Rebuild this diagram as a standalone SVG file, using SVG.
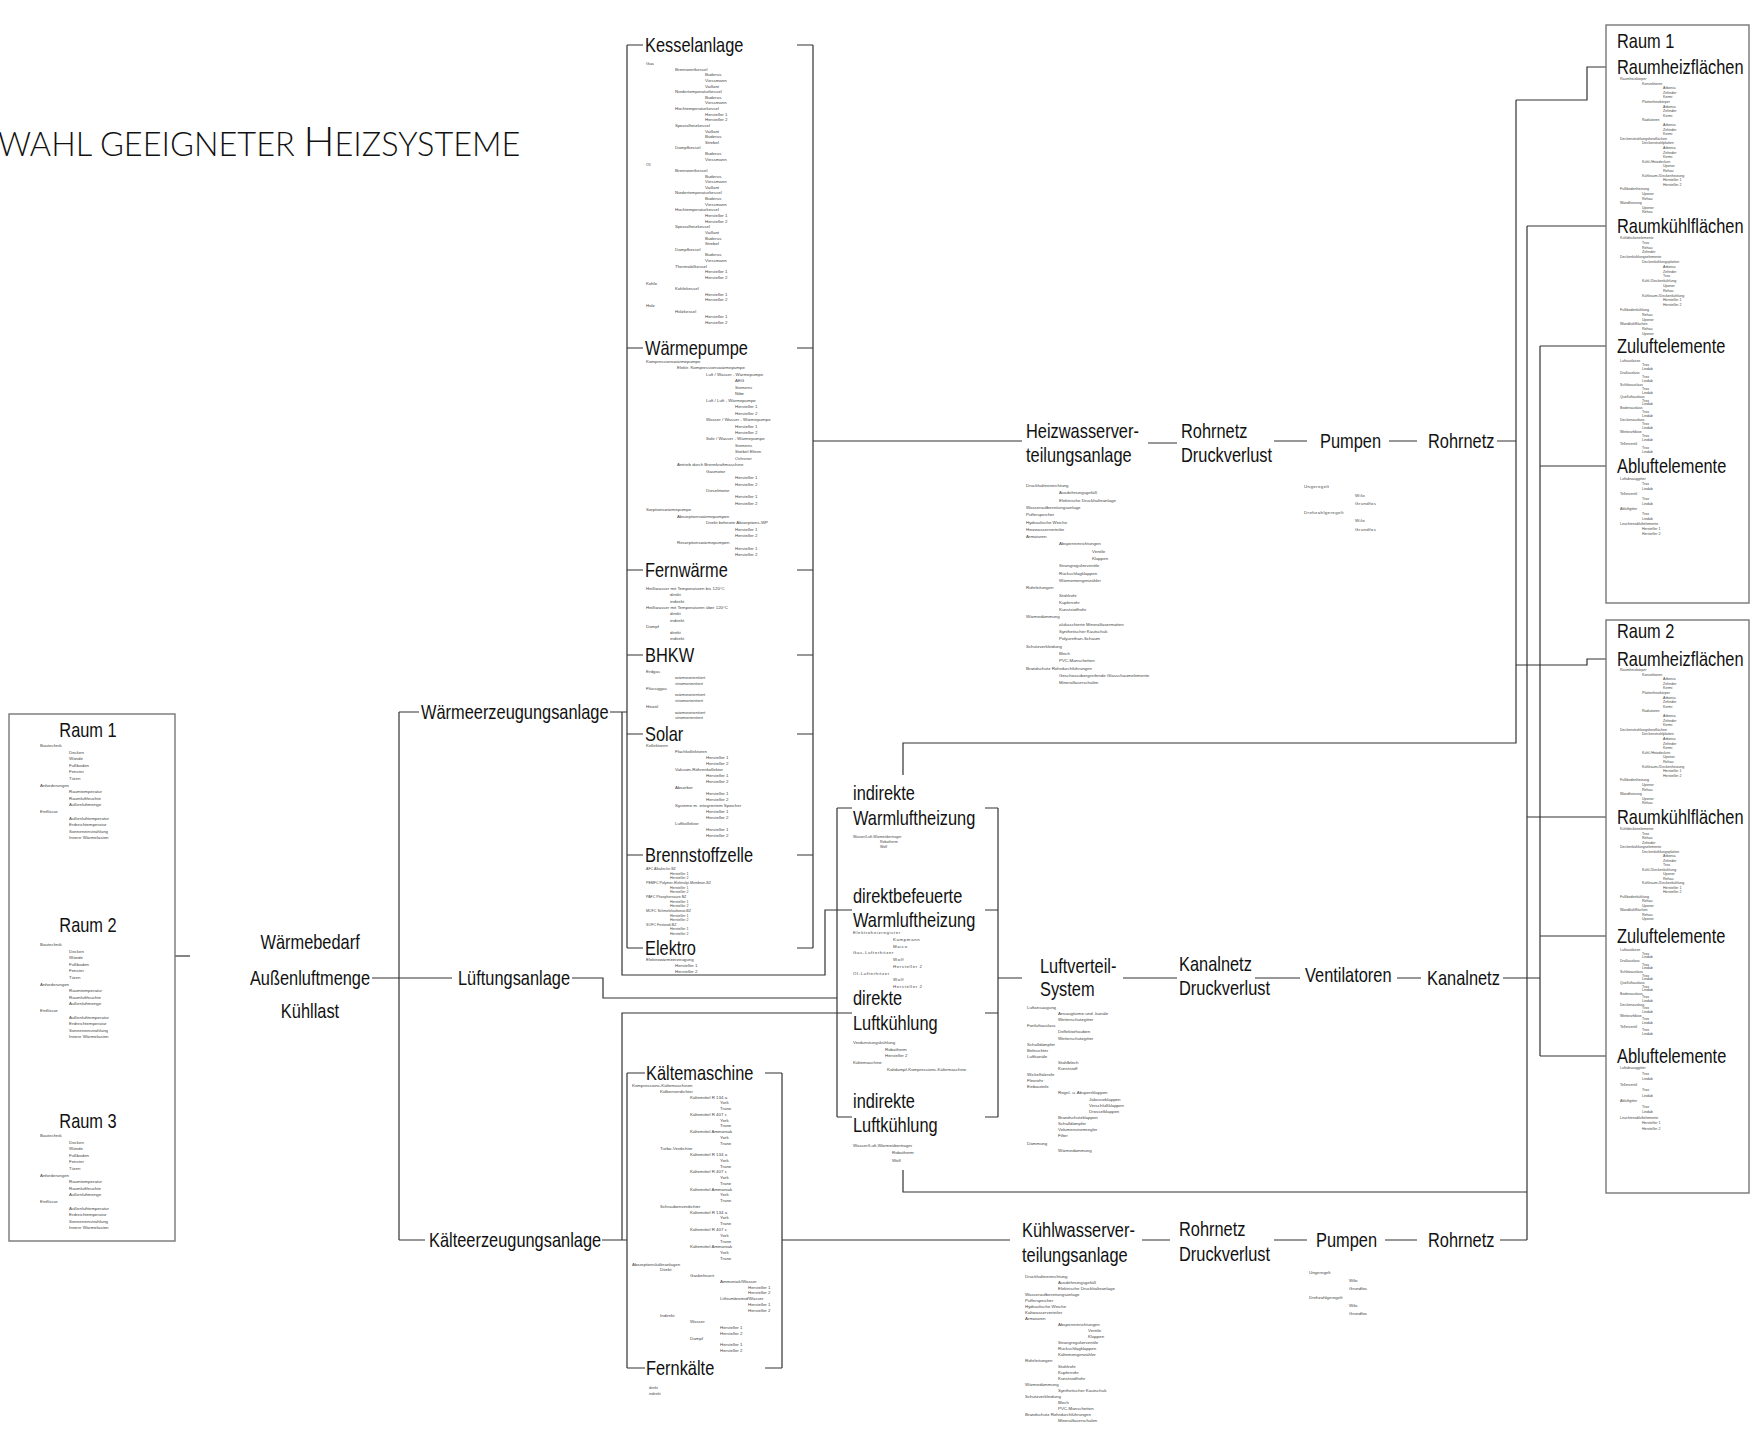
<svg xmlns="http://www.w3.org/2000/svg" width="1752" height="1430" viewBox="0 0 1752 1430">
<style>
.bg{fill:#fff}
.lb{font-family:"Liberation Sans",Arial,sans-serif;font-size:20px;fill:#111;transform-box:fill-box;transform-origin:0 50%;transform:scaleX(0.82)}
.lm{font-family:"Liberation Sans",Arial,sans-serif;font-size:20px;fill:#111;text-anchor:middle;transform-box:fill-box;transform-origin:50% 50%;transform:scaleX(0.82)}
.t{font-family:"Liberation Sans",Arial,sans-serif;font-size:4.4px;fill:#444}
.ts{font-family:"Liberation Sans",Arial,sans-serif;font-size:3.6px;fill:#444}
.tt{font-family:"Lato","Open Sans",sans-serif;font-weight:300;fill:#111}
.c{fill:none;stroke:#333;stroke-width:1.2}
.box{fill:#fff;stroke:#777;stroke-width:1.4}
</style>
<rect class="bg" width="1752" height="1430"/>
<text class="tt" x="-2" y="156" font-size="32.5">WAHL GEEIGNETER <tspan font-size="41">H</tspan>EIZSYSTEME</text>

<g id="connectors" class="c">
<path d="M175 956H190"/>
<path d="M372 978H452M399 712V1240M399 712H419M399 1240H425"/>
<path d="M610 712H627M622 712V975H825V910H837"/>
<path d="M572 978H603V998H837"/>
<path d="M602 1240H627M622 1240V1013H852"/>
<path d="M627 45V948M627 45H643M627 348H643M627 570H643M627 655H643M627 734H643M627 855H643M627 948H643"/>
<path d="M813 45V948M797 45H813M797 348H813M797 570H813M797 655H813M797 734H813M797 855H813M797 948H813"/>
<path d="M813 441H1022"/>
<path d="M627 1073V1368M627 1073H645M627 1368H645M782 1073V1368M765 1073H782M765 1368H782M782 1240H1010"/>
<path d="M837 808V1117M837 808H852M837 910H852M837 1117H852M998 808V1117M985 808H998M985 910H998M985 1013H998M985 1117H998M998 978H1022"/>
<path d="M1148 443H1177M1274 441H1307M1389 441H1417M1497 441H1516"/>
<path d="M1123 978H1177M1255 978H1300M1397 978H1421M1503 978H1540"/>
<path d="M1142 1240H1170M1274 1240H1307M1385 1240H1417M1500 1240H1527"/>
<path d="M1516 100V743H903V775M1516 100H1587V67H1613M1516 665H1587V659H1613"/>
<path d="M1527 226V1240M1527 226H1613M1527 817H1613M1527 1192H903V1170"/>
<path d="M1540 346V1056M1540 346H1613M1540 466H1613M1540 936H1613M1540 1056H1613"/>
</g>

<g id="raum-links">
<rect class="box" x="9" y="714" width="166" height="527"/>
<text class="lm" x="88" y="737">Raum 1</text>
<text class="t" y="747"><tspan x="40">Bautechnik</tspan><tspan x="69" dy="6.6">Decken</tspan><tspan x="69" dy="6.6">Wände</tspan><tspan x="69" dy="6.6">Fußboden</tspan><tspan x="69" dy="6.6">Fenster</tspan><tspan x="69" dy="6.6">Türen</tspan><tspan x="40" dy="6.6">Anforderungen</tspan><tspan x="69" dy="6.6">Raumtemperatur</tspan><tspan x="69" dy="6.6">Raumluftfeuchte</tspan><tspan x="69" dy="6.6">Außenluftmenge</tspan><tspan x="40" dy="6.6">Einflüsse</tspan><tspan x="69" dy="6.6">Außenlufttemperatur</tspan><tspan x="69" dy="6.6">Erdreichtemperatur</tspan><tspan x="69" dy="6.6">Sonneneinstrahlung</tspan><tspan x="69" dy="6.6">Innere Wärmelasten</tspan></text>
<text class="lm" x="88" y="932">Raum 2</text>
<text class="t" y="946"><tspan x="40">Bautechnik</tspan><tspan x="69" dy="6.6">Decken</tspan><tspan x="69" dy="6.6">Wände</tspan><tspan x="69" dy="6.6">Fußboden</tspan><tspan x="69" dy="6.6">Fenster</tspan><tspan x="69" dy="6.6">Türen</tspan><tspan x="40" dy="6.6">Anforderungen</tspan><tspan x="69" dy="6.6">Raumtemperatur</tspan><tspan x="69" dy="6.6">Raumluftfeuchte</tspan><tspan x="69" dy="6.6">Außenluftmenge</tspan><tspan x="40" dy="6.6">Einflüsse</tspan><tspan x="69" dy="6.6">Außenlufttemperatur</tspan><tspan x="69" dy="6.6">Erdreichtemperatur</tspan><tspan x="69" dy="6.6">Sonneneinstrahlung</tspan><tspan x="69" dy="6.6">Innere Wärmelasten</tspan></text>
<text class="lm" x="88" y="1128">Raum 3</text>
<text class="t" y="1137"><tspan x="40">Bautechnik</tspan><tspan x="69" dy="6.6">Decken</tspan><tspan x="69" dy="6.6">Wände</tspan><tspan x="69" dy="6.6">Fußboden</tspan><tspan x="69" dy="6.6">Fenster</tspan><tspan x="69" dy="6.6">Türen</tspan><tspan x="40" dy="6.6">Anforderungen</tspan><tspan x="69" dy="6.6">Raumtemperatur</tspan><tspan x="69" dy="6.6">Raumluftfeuchte</tspan><tspan x="69" dy="6.6">Außenluftmenge</tspan><tspan x="40" dy="6.6">Einflüsse</tspan><tspan x="69" dy="6.6">Außenlufttemperatur</tspan><tspan x="69" dy="6.6">Erdreichtemperatur</tspan><tspan x="69" dy="6.6">Sonneneinstrahlung</tspan><tspan x="69" dy="6.6">Innere Wärmelasten</tspan></text>
</g>

<g id="bedarf">
<text class="lm" x="310" y="949">Wärmebedarf</text>
<text class="lm" x="310" y="985">Außenluftmenge</text>
<text class="lm" x="310" y="1018">Kühllast</text>
</g>

<g id="waermeerzeugung"><text class="lb" x="421" y="719">Wärmeerzeugungsanlage</text></g>
<g id="lueftung"><text class="lb" x="458" y="985">Lüftungsanlage</text></g>
<g id="kaelteerzeugung"><text class="lb" x="429" y="1247">Kälteerzeugungsanlage</text></g>

<g id="kesselanlage">
<text class="lb" x="645" y="52">Kesselanlage</text>
<text class="t" y="65"><tspan x="646">Gas</tspan><tspan x="675" dy="5.63">Brennwertkessel</tspan><tspan x="705" dy="5.63">Buderus</tspan><tspan x="705" dy="5.63">Viessmann</tspan><tspan x="705" dy="5.63">Vaillant</tspan><tspan x="675" dy="5.63">Niedertemperaturkessel</tspan><tspan x="705" dy="5.63">Buderus</tspan><tspan x="705" dy="5.63">Viessmann</tspan><tspan x="675" dy="5.63">Hochtemperaturkessel</tspan><tspan x="705" dy="5.63">Hersteller 1</tspan><tspan x="705" dy="5.63">Hersteller 2</tspan><tspan x="675" dy="5.63">Spezialheizkessel</tspan><tspan x="705" dy="5.63">Vaillant</tspan><tspan x="705" dy="5.63">Buderus</tspan><tspan x="705" dy="5.63">Strebel</tspan><tspan x="675" dy="5.63">Dampfkessel</tspan><tspan x="705" dy="5.63">Buderus</tspan><tspan x="705" dy="5.63">Viessmann</tspan><tspan x="646" dy="5.63">Öl</tspan><tspan x="675" dy="5.63">Brennwertkessel</tspan><tspan x="705" dy="5.63">Buderus</tspan><tspan x="705" dy="5.63">Viessmann</tspan><tspan x="705" dy="5.63">Vaillant</tspan><tspan x="675" dy="5.63">Niedertemperaturkessel</tspan><tspan x="705" dy="5.63">Buderus</tspan><tspan x="705" dy="5.63">Viessmann</tspan><tspan x="675" dy="5.63">Hochtemperaturkessel</tspan><tspan x="705" dy="5.63">Hersteller 1</tspan><tspan x="705" dy="5.63">Hersteller 2</tspan><tspan x="675" dy="5.63">Spezialheizkessel</tspan><tspan x="705" dy="5.63">Vaillant</tspan><tspan x="705" dy="5.63">Buderus</tspan><tspan x="705" dy="5.63">Strebel</tspan><tspan x="675" dy="5.63">Dampfkessel</tspan><tspan x="705" dy="5.63">Buderus</tspan><tspan x="705" dy="5.63">Viessmann</tspan><tspan x="675" dy="5.63">Thermalölkessel</tspan><tspan x="705" dy="5.63">Hersteller 1</tspan><tspan x="705" dy="5.63">Hersteller 2</tspan><tspan x="646" dy="5.63">Kohle</tspan><tspan x="675" dy="5.63">Kohlekessel</tspan><tspan x="705" dy="5.63">Hersteller 1</tspan><tspan x="705" dy="5.63">Hersteller 2</tspan><tspan x="646" dy="5.63">Holz</tspan><tspan x="675" dy="5.63">Holzkessel</tspan><tspan x="705" dy="5.63">Hersteller 1</tspan><tspan x="705" dy="5.63">Hersteller 2</tspan></text>
</g>

<g id="waermepumpe">
<text class="lb" x="645" y="355">Wärmepumpe</text>
<text class="t" y="363"><tspan x="646">Kompressionswärmepumpe</tspan><tspan x="677" dy="6.45">Elektr. Kompressionswärmepumpe</tspan><tspan x="706" dy="6.45">Luft / Wasser - Wärmepumpe</tspan><tspan x="735" dy="6.45">AEG</tspan><tspan x="735" dy="6.45">Siemens</tspan><tspan x="735" dy="6.45">Nibe</tspan><tspan x="706" dy="6.45">Luft / Luft - Wärmepumpe</tspan><tspan x="735" dy="6.45">Hersteller 1</tspan><tspan x="735" dy="6.45">Hersteller 2</tspan><tspan x="706" dy="6.45">Wasser / Wasser - Wärmepumpe</tspan><tspan x="735" dy="6.45">Hersteller 1</tspan><tspan x="735" dy="6.45">Hersteller 2</tspan><tspan x="706" dy="6.45">Sole / Wasser - Wärmepumpe</tspan><tspan x="735" dy="6.45">Siemens</tspan><tspan x="735" dy="6.45">Stiebel Eltron</tspan><tspan x="735" dy="6.45">Ochsner</tspan><tspan x="677" dy="6.45">Antrieb durch Brennkraftmaschine</tspan><tspan x="706" dy="6.45">Gasmotor</tspan><tspan x="735" dy="6.45">Hersteller 1</tspan><tspan x="735" dy="6.45">Hersteller 2</tspan><tspan x="706" dy="6.45">Dieselmotor</tspan><tspan x="735" dy="6.45">Hersteller 1</tspan><tspan x="735" dy="6.45">Hersteller 2</tspan><tspan x="646" dy="6.45">Sorptionswärmepumpe</tspan><tspan x="677" dy="6.45">Absorptionswärmepumpen</tspan><tspan x="706" dy="6.45">Direkt beheizte Absorptions-WP</tspan><tspan x="735" dy="6.45">Hersteller 1</tspan><tspan x="735" dy="6.45">Hersteller 2</tspan><tspan x="677" dy="6.45">Resorptionswärmepumpen</tspan><tspan x="735" dy="6.45">Hersteller 1</tspan><tspan x="735" dy="6.45">Hersteller 2</tspan></text>
</g>

<g id="fernwaerme">
<text class="lb" x="645" y="577">Fernwärme</text>
<text class="t" y="590"><tspan x="646">Heißwasser mit Temperaturen bis 120°C</tspan><tspan x="670" dy="6.3">direkt</tspan><tspan x="670" dy="6.3">indirekt</tspan><tspan x="646" dy="6.3">Heißwasser mit Temperaturen über 120°C</tspan><tspan x="670" dy="6.3">direkt</tspan><tspan x="670" dy="6.3">indirekt</tspan><tspan x="646" dy="6.3">Dampf</tspan><tspan x="670" dy="6.3">direkt</tspan><tspan x="670" dy="6.3">indirekt</tspan></text>
</g>

<g id="bhkw">
<text class="lb" x="645" y="662">BHKW</text>
<text class="t" y="673"><tspan x="646">Erdgas</tspan><tspan x="675" dy="5.8">wärmeorientiert</tspan><tspan x="675" dy="5.8">stromorientiert</tspan><tspan x="646" dy="5.8">Flüssiggas</tspan><tspan x="675" dy="5.8">wärmeorientiert</tspan><tspan x="675" dy="5.8">stromorientiert</tspan><tspan x="646" dy="5.8">Heizöl</tspan><tspan x="675" dy="5.8">wärmeorientiert</tspan><tspan x="675" dy="5.8">stromorientiert</tspan></text>
</g>

<g id="solar">
<text class="lb" x="645" y="741">Solar</text>
<text class="t" y="747"><tspan x="646">Kollektoren</tspan><tspan x="675" dy="6">Flachkollektoren</tspan><tspan x="706" dy="6">Hersteller 1</tspan><tspan x="706" dy="6">Hersteller 2</tspan><tspan x="675" dy="6">Vakuum-Röhrenkollektor</tspan><tspan x="706" dy="6">Hersteller 1</tspan><tspan x="706" dy="6">Hersteller 2</tspan><tspan x="675" dy="6">Absorber</tspan><tspan x="706" dy="6">Hersteller 1</tspan><tspan x="706" dy="6">Hersteller 2</tspan><tspan x="675" dy="6">Systeme m. integriertem Speicher</tspan><tspan x="706" dy="6">Hersteller 1</tspan><tspan x="706" dy="6">Hersteller 2</tspan><tspan x="675" dy="6">Luftkollektor</tspan><tspan x="706" dy="6">Hersteller 1</tspan><tspan x="706" dy="6">Hersteller 2</tspan></text>
</g>

<g id="brennstoffzelle">
<text class="lb" x="645" y="862">Brennstoffzelle</text>
<text class="ts" y="870"><tspan x="646">AFC Alkalische BZ</tspan><tspan x="670" dy="4.65">Hersteller 1</tspan><tspan x="670" dy="4.65">Hersteller 2</tspan><tspan x="646" dy="4.65">PEMFC Polymer-Elektrolyt-Membran-BZ</tspan><tspan x="670" dy="4.65">Hersteller 1</tspan><tspan x="670" dy="4.65">Hersteller 2</tspan><tspan x="646" dy="4.65">PAFC Phosphorsaure BZ</tspan><tspan x="670" dy="4.65">Hersteller 1</tspan><tspan x="670" dy="4.65">Hersteller 2</tspan><tspan x="646" dy="4.65">MCFC Schmelzkarbonat-BZ</tspan><tspan x="670" dy="4.65">Hersteller 1</tspan><tspan x="670" dy="4.65">Hersteller 2</tspan><tspan x="646" dy="4.65">SOFC Festoxid-BZ</tspan><tspan x="670" dy="4.65">Hersteller 1</tspan><tspan x="670" dy="4.65">Hersteller 2</tspan></text>
</g>

<g id="elektro">
<text class="lb" x="645" y="955">Elektro</text>
<text class="t" y="961"><tspan x="646">Elektrowärmeerzeugung</tspan><tspan x="675" dy="6">Hersteller 1</tspan><tspan x="675" dy="6">Hersteller 2</tspan></text>
</g>

<g id="kaeltemaschine">
<text class="lb" x="646" y="1080">Kältemaschine</text>
<text class="t" y="1087"><tspan x="632">Kompressions-Kältemaschinen</tspan><tspan x="660" dy="5.76">Kolbenverdichter</tspan><tspan x="690" dy="5.76">Kältemittel R 134 a</tspan><tspan x="720" dy="5.76">York</tspan><tspan x="720" dy="5.76">Trane</tspan><tspan x="690" dy="5.76">Kältemittel R 407 c</tspan><tspan x="720" dy="5.76">York</tspan><tspan x="720" dy="5.76">Trane</tspan><tspan x="690" dy="5.76">Kältemittel Ammoniak</tspan><tspan x="720" dy="5.76">York</tspan><tspan x="720" dy="5.76">Trane</tspan><tspan x="660" dy="5.76">Turbo-Verdichter</tspan><tspan x="690" dy="5.76">Kältemittel R 134 a</tspan><tspan x="720" dy="5.76">York</tspan><tspan x="720" dy="5.76">Trane</tspan><tspan x="690" dy="5.76">Kältemittel R 407 c</tspan><tspan x="720" dy="5.76">York</tspan><tspan x="720" dy="5.76">Trane</tspan><tspan x="690" dy="5.76">Kältemittel Ammoniak</tspan><tspan x="720" dy="5.76">York</tspan><tspan x="720" dy="5.76">Trane</tspan><tspan x="660" dy="5.76">Schraubenverdichter</tspan><tspan x="690" dy="5.76">Kältemittel R 134 a</tspan><tspan x="720" dy="5.76">York</tspan><tspan x="720" dy="5.76">Trane</tspan><tspan x="690" dy="5.76">Kältemittel R 407 c</tspan><tspan x="720" dy="5.76">York</tspan><tspan x="720" dy="5.76">Trane</tspan><tspan x="690" dy="5.76">Kältemittel Ammoniak</tspan><tspan x="720" dy="5.76">York</tspan><tspan x="720" dy="5.76">Trane</tspan><tspan x="632" dy="5.76">Absorptionskälteanlagen</tspan><tspan x="660" dy="5.76">Direkt</tspan><tspan x="690" dy="5.76">Gasbefeuert</tspan><tspan x="720" dy="5.76">Ammoniak/Wasser</tspan><tspan x="748" dy="5.76">Hersteller 1</tspan><tspan x="748" dy="5.76">Hersteller 2</tspan><tspan x="720" dy="5.76">Lithiumbromid/Wasser</tspan><tspan x="748" dy="5.76">Hersteller 1</tspan><tspan x="748" dy="5.76">Hersteller 2</tspan><tspan x="660" dy="5.76">Indirekt</tspan><tspan x="690" dy="5.76">Wasser</tspan><tspan x="720" dy="5.76">Hersteller 1</tspan><tspan x="720" dy="5.76">Hersteller 2</tspan><tspan x="690" dy="5.76">Dampf</tspan><tspan x="720" dy="5.76">Hersteller 1</tspan><tspan x="720" dy="5.76">Hersteller 2</tspan></text>
</g>

<g id="fernkaelte">
<text class="lb" x="646" y="1375">Fernkälte</text>
<text class="ts" y="1389"><tspan x="649">direkt</tspan><tspan x="649" dy="5.5">indirekt</tspan></text>
</g>

<g id="indirekte-warmluftheizung">
<text class="lb" x="853" y="800">indirekte</text>
<text class="lb" x="853" y="825">Warmluftheizung</text>
<text class="ts" y="838"><tspan x="853">Wasser/Luft-Wärmeübertrager</tspan><tspan x="880" dy="5">Robatherm</tspan><tspan x="880" dy="5">Wolf</tspan></text>
</g>

<g id="direktbefeuerte-warmluftheizung">
<text class="lb" x="853" y="903">direktbefeuerte</text>
<text class="lb" x="853" y="927">Warmluftheizung</text>
<text class="t" y="934" letter-spacing="0.6"><tspan x="853">Elektroheizregister</tspan><tspan x="893" dy="6.75">Kampmann</tspan><tspan x="893" dy="6.75">Maico</tspan><tspan x="853" dy="6.75">Gas-Lufterhitzer</tspan><tspan x="893" dy="6.75">Wolf</tspan><tspan x="893" dy="6.75">Hersteller 2</tspan><tspan x="853" dy="6.75">Öl-Lufterhitzer</tspan><tspan x="893" dy="6.75">Wolf</tspan><tspan x="893" dy="6.75">Hersteller 2</tspan></text>
</g>

<g id="direkte-luftkuehlung">
<text class="lb" x="853" y="1005">direkte</text>
<text class="lb" x="853" y="1030">Luftkühlung</text>
<text class="t" y="1044"><tspan x="853">Verdunstungskühlung</tspan><tspan x="885" dy="6.7">Robatherm</tspan><tspan x="885" dy="6.7">Hersteller 2</tspan><tspan x="853" dy="6.7">Kältemaschine</tspan><tspan x="887" dy="6.7">Kaltdampf-Kompressions-Kältemaschine</tspan></text>
</g>

<g id="indirekte-luftkuehlung">
<text class="lb" x="853" y="1108">indirekte</text>
<text class="lb" x="853" y="1132">Luftkühlung</text>
<text class="t" y="1147" font-size="5"><tspan x="853">Wasser/Luft-Wärmeübertrager</tspan><tspan x="892" dy="7.3">Robatherm</tspan><tspan x="892" dy="7.3">Wolf</tspan></text>
</g>

<g id="heizwasserverteilung">
<text class="lb" x="1026" y="438">Heizwasserver-</text>
<text class="lb" x="1026" y="462">teilungsanlage</text>
<text class="t" y="487" font-size="4.8"><tspan x="1026">Druckhalteeinrichtung</tspan><tspan x="1059" dy="7.3">Ausdehnungsgefäß</tspan><tspan x="1059" dy="7.3">Elektrische Druckhalteanlage</tspan><tspan x="1026" dy="7.3">Wasseraufbereitungsanlage</tspan><tspan x="1026" dy="7.3">Pufferspeicher</tspan><tspan x="1026" dy="7.3">Hydraulische Weiche</tspan><tspan x="1026" dy="7.3">Heizwasserverteiler</tspan><tspan x="1026" dy="7.3">Armaturen</tspan><tspan x="1059" dy="7.3">Absperreinrichtungen</tspan><tspan x="1092" dy="7.3">Ventile</tspan><tspan x="1092" dy="7.3">Klappen</tspan><tspan x="1059" dy="7.3">Strangregulierventile</tspan><tspan x="1059" dy="7.3">Rückschlagklappen</tspan><tspan x="1059" dy="7.3">Wärmemengenzähler</tspan><tspan x="1026" dy="7.3">Rohrleitungen</tspan><tspan x="1059" dy="7.3">Stahlrohr</tspan><tspan x="1059" dy="7.3">Kupferrohr</tspan><tspan x="1059" dy="7.3">Kunststoffrohr</tspan><tspan x="1026" dy="7.3">Wärmedämmung</tspan><tspan x="1059" dy="7.3">alukaschierte Mineralfasermatten</tspan><tspan x="1059" dy="7.3">Synthetischer Kautschuk</tspan><tspan x="1059" dy="7.3">Polyurethan-Schaum</tspan><tspan x="1026" dy="7.3">Schutzverkleidung</tspan><tspan x="1059" dy="7.3">Blech</tspan><tspan x="1059" dy="7.3">PVC-Manschetten</tspan><tspan x="1026" dy="7.3">Brandschutz Rohrdurchführungen</tspan><tspan x="1059" dy="7.3">Geschossübergreifende Glasschaumelemente</tspan><tspan x="1059" dy="7.3">Mineralfaserschalen</tspan></text>
</g>

<g id="rohrnetz-druckverlust-h">
<text class="lb" x="1181" y="438">Rohrnetz</text>
<text class="lb" x="1181" y="462">Druckverlust</text>
</g>
<g id="pumpen-h">
<text class="lb" x="1320" y="448">Pumpen</text>
<text class="t" y="488" font-size="5" letter-spacing="0.4"><tspan x="1304">Ungeregelt</tspan><tspan x="1355" dy="8.5">Wilo</tspan><tspan x="1355" dy="8.5">Grundfos</tspan><tspan x="1304" dy="8.5">Drehzahlgeregelt</tspan><tspan x="1355" dy="8.5">Wilo</tspan><tspan x="1355" dy="8.5">Grundfos</tspan></text>
</g>
<g id="rohrnetz-h"><text class="lb" x="1428" y="448">Rohrnetz</text></g>

<g id="luftverteilsystem">
<text class="lb" x="1040" y="973">Luftverteil-</text>
<text class="lb" x="1040" y="996">System</text>
<text class="t" y="1009"><tspan x="1027">Luftansaugung</tspan><tspan x="1058" dy="6.1">Ansaugtürme und -kanäle</tspan><tspan x="1058" dy="6.1">Wetterschutzgitter</tspan><tspan x="1027" dy="6.1">Fortluftauslass</tspan><tspan x="1058" dy="6.1">Deflektorhauben</tspan><tspan x="1058" dy="6.1">Wetterschutzgitter</tspan><tspan x="1027" dy="6.1">Schalldämpfer</tspan><tspan x="1027" dy="6.1">Befeuchter</tspan><tspan x="1027" dy="6.1">Luftkanäle</tspan><tspan x="1058" dy="6.1">Stahlblech</tspan><tspan x="1058" dy="6.1">Kunststoff</tspan><tspan x="1027" dy="6.1">Wickelfalzrohr</tspan><tspan x="1027" dy="6.1">Flexrohr</tspan><tspan x="1027" dy="6.1">Einbauteile</tspan><tspan x="1058" dy="6.1">Regel- u. Absperrklappen</tspan><tspan x="1089" dy="6.1">Jalousieklappen</tspan><tspan x="1089" dy="6.1">Verschlußklappen</tspan><tspan x="1089" dy="6.1">Drosselklappen</tspan><tspan x="1058" dy="6.1">Brandschutzklappen</tspan><tspan x="1058" dy="6.1">Schalldämpfer</tspan><tspan x="1058" dy="6.1">Volumenstromregler</tspan><tspan x="1058" dy="6.1">Filter</tspan><tspan x="1027" dy="7.5">Dämmung</tspan><tspan x="1058" dy="7.5">Wärmedämmung</tspan></text>
</g>

<g id="kanalnetz-druckverlust">
<text class="lb" x="1179" y="971">Kanalnetz</text>
<text class="lb" x="1179" y="995">Druckverlust</text>
</g>
<g id="ventilatoren"><text class="lb" x="1305" y="982">Ventilatoren</text></g>
<g id="kanalnetz"><text class="lb" x="1427" y="985">Kanalnetz</text></g>

<g id="kuehlwasserverteilung">
<text class="lb" x="1022" y="1237">Kühlwasserver-</text>
<text class="lb" x="1022" y="1262">teilungsanlage</text>
<text class="t" y="1278"><tspan x="1025">Druckhalteeinrichtung</tspan><tspan x="1058" dy="6">Ausdehnungsgefäß</tspan><tspan x="1058" dy="6">Elektrische Druckhalteanlage</tspan><tspan x="1025" dy="6">Wasseraufbereitungsanlage</tspan><tspan x="1025" dy="6">Pufferspeicher</tspan><tspan x="1025" dy="6">Hydraulische Weiche</tspan><tspan x="1025" dy="6">Kaltwasserverteiler</tspan><tspan x="1025" dy="6">Armaturen</tspan><tspan x="1058" dy="6">Absperreinrichtungen</tspan><tspan x="1088" dy="6">Ventile</tspan><tspan x="1088" dy="6">Klappen</tspan><tspan x="1058" dy="6">Strangregulierventile</tspan><tspan x="1058" dy="6">Rückschlagklappen</tspan><tspan x="1058" dy="6">Kältemengenzähler</tspan><tspan x="1025" dy="6">Rohrleitungen</tspan><tspan x="1058" dy="6">Stahlrohr</tspan><tspan x="1058" dy="6">Kupferrohr</tspan><tspan x="1058" dy="6">Kunststoffrohr</tspan><tspan x="1025" dy="6">Wärmedämmung</tspan><tspan x="1058" dy="6">Synthetischer Kautschuk</tspan><tspan x="1025" dy="6">Schutzverkleidung</tspan><tspan x="1058" dy="6">Blech</tspan><tspan x="1058" dy="6">PVC-Manschetten</tspan><tspan x="1025" dy="6">Brandschutz Rohrdurchführungen</tspan><tspan x="1058" dy="6">Mineralfaserschalen</tspan></text>
</g>

<g id="rohrnetz-druckverlust-k">
<text class="lb" x="1179" y="1236">Rohrnetz</text>
<text class="lb" x="1179" y="1261">Druckverlust</text>
</g>
<g id="pumpen-k">
<text class="lb" x="1316" y="1247">Pumpen</text>
<text class="t" y="1274"><tspan x="1309">Ungeregelt</tspan><tspan x="1349" dy="8.2">Wilo</tspan><tspan x="1349" dy="8.2">Grundfos</tspan><tspan x="1309" dy="8.2">Drehzahlgeregelt</tspan><tspan x="1349" dy="8.2">Wilo</tspan><tspan x="1349" dy="8.2">Grundfos</tspan></text>
</g>
<g id="rohrnetz-k"><text class="lb" x="1428" y="1247">Rohrnetz</text></g>

<g id="raum1-rechts">
<rect class="box" x="1606" y="25" width="143" height="578"/>
<text class="lb" x="1617" y="48">Raum 1</text>
<text class="lb" x="1617" y="74">Raumheizflächen</text>
<text class="ts" y="80"><tspan x="1620">Raumheizkörper</tspan><tspan x="1642" dy="4.6">Konvektoren</tspan><tspan x="1663" dy="4.6">Arbonia</tspan><tspan x="1663" dy="4.6">Zehnder</tspan><tspan x="1663" dy="4.6">Kermi</tspan><tspan x="1642" dy="4.6">Plattenheizkörper</tspan><tspan x="1663" dy="4.6">Arbonia</tspan><tspan x="1663" dy="4.6">Zehnder</tspan><tspan x="1663" dy="4.6">Kermi</tspan><tspan x="1642" dy="4.6">Radiatoren</tspan><tspan x="1663" dy="4.6">Arbonia</tspan><tspan x="1663" dy="4.6">Zehnder</tspan><tspan x="1663" dy="4.6">Kermi</tspan><tspan x="1620" dy="4.6">Deckenstrahlungsheizflächen</tspan><tspan x="1642" dy="4.6">Deckenstrahlplatten</tspan><tspan x="1663" dy="4.6">Arbonia</tspan><tspan x="1663" dy="4.6">Zehnder</tspan><tspan x="1663" dy="4.6">Kermi</tspan><tspan x="1642" dy="4.6">Kühl-/Heizdecken</tspan><tspan x="1663" dy="4.6">Uponor</tspan><tspan x="1663" dy="4.6">Rehau</tspan><tspan x="1642" dy="4.6">Kühlraum-/Deckenheizung</tspan><tspan x="1663" dy="4.6">Hersteller 1</tspan><tspan x="1663" dy="4.6">Hersteller 2</tspan><tspan x="1620" dy="4.6">Fußbodenheizung</tspan><tspan x="1642" dy="4.6">Uponor</tspan><tspan x="1642" dy="4.6">Rehau</tspan><tspan x="1620" dy="4.6">Wandheizung</tspan><tspan x="1642" dy="4.6">Uponor</tspan><tspan x="1642" dy="4.6">Rehau</tspan></text>
<text class="lb" x="1617" y="233">Raumkühlflächen</text>
<text class="ts" y="239"><tspan x="1620">Kühldeckenelemente</tspan><tspan x="1642" dy="4.8">Trox</tspan><tspan x="1642" dy="4.8">Rehau</tspan><tspan x="1642" dy="4.8">Zehnder</tspan><tspan x="1620" dy="4.8">Deckenkühlungselemente</tspan><tspan x="1642" dy="4.8">Deckenkühlungsplatten</tspan><tspan x="1663" dy="4.8">Arbonia</tspan><tspan x="1663" dy="4.8">Zehnder</tspan><tspan x="1663" dy="4.8">Trox</tspan><tspan x="1642" dy="4.8">Kühl-/Deckenkühlung</tspan><tspan x="1663" dy="4.8">Uponor</tspan><tspan x="1663" dy="4.8">Rehau</tspan><tspan x="1642" dy="4.8">Kühlraum-/Deckenkühlung</tspan><tspan x="1663" dy="4.8">Hersteller 1</tspan><tspan x="1663" dy="4.8">Hersteller 2</tspan><tspan x="1620" dy="4.8">Fußbodenkühlung</tspan><tspan x="1642" dy="4.8">Rehau</tspan><tspan x="1642" dy="4.8">Uponor</tspan><tspan x="1620" dy="4.8">Wandkühlflächen</tspan><tspan x="1642" dy="4.8">Rehau</tspan><tspan x="1642" dy="4.8">Uponor</tspan></text>
<text class="lb" x="1617" y="353">Zuluftelemente</text>
<text class="ts" y="362" font-size="3.2"><tspan x="1620">Luftauslässe</tspan><tspan x="1642" dy="3.95">Trox</tspan><tspan x="1642" dy="3.95">Lindab</tspan><tspan x="1620" dy="3.95">Drallauslass</tspan><tspan x="1642" dy="3.95">Trox</tspan><tspan x="1642" dy="3.95">Lindab</tspan><tspan x="1620" dy="3.95">Schlitzauslass</tspan><tspan x="1642" dy="3.95">Trox</tspan><tspan x="1642" dy="3.95">Lindab</tspan><tspan x="1620" dy="3.95">Quelluftauslass</tspan><tspan x="1642" dy="3.95">Trox</tspan><tspan x="1642" dy="3.95">Lindab</tspan><tspan x="1620" dy="3.95">Bodenauslass</tspan><tspan x="1642" dy="3.95">Trox</tspan><tspan x="1642" dy="3.95">Lindab</tspan><tspan x="1620" dy="3.95">Deckenauslass</tspan><tspan x="1642" dy="3.95">Trox</tspan><tspan x="1642" dy="3.95">Lindab</tspan><tspan x="1620" dy="3.95">Weitwurfdüse</tspan><tspan x="1642" dy="3.95">Trox</tspan><tspan x="1642" dy="3.95">Lindab</tspan><tspan x="1620" dy="3.95">Tellerventil</tspan><tspan x="1642" dy="3.95">Trox</tspan><tspan x="1642" dy="3.95">Lindab</tspan></text>
<text class="lb" x="1617" y="473">Abluftelemente</text>
<text class="ts" y="480"><tspan x="1620">Luftabsauggitter</tspan><tspan x="1642" dy="5">Trox</tspan><tspan x="1642" dy="5">Lindab</tspan><tspan x="1620" dy="5">Tellerventil</tspan><tspan x="1642" dy="5">Trox</tspan><tspan x="1642" dy="5">Lindab</tspan><tspan x="1620" dy="5">Abluftgitter</tspan><tspan x="1642" dy="5">Trox</tspan><tspan x="1642" dy="5">Lindab</tspan><tspan x="1620" dy="5">Leuchtenabluftelemente</tspan><tspan x="1642" dy="5">Hersteller 1</tspan><tspan x="1642" dy="5">Hersteller 2</tspan></text>
</g>

<g id="raum2-rechts">
<rect class="box" x="1606" y="620" width="143" height="573"/>
<text class="lb" x="1617" y="638">Raum 2</text>
<text class="lb" x="1617" y="666">Raumheizflächen</text>
<text class="ts" y="671"><tspan x="1620">Raumheizkörper</tspan><tspan x="1642" dy="4.6">Konvektoren</tspan><tspan x="1663" dy="4.6">Arbonia</tspan><tspan x="1663" dy="4.6">Zehnder</tspan><tspan x="1663" dy="4.6">Kermi</tspan><tspan x="1642" dy="4.6">Plattenheizkörper</tspan><tspan x="1663" dy="4.6">Arbonia</tspan><tspan x="1663" dy="4.6">Zehnder</tspan><tspan x="1663" dy="4.6">Kermi</tspan><tspan x="1642" dy="4.6">Radiatoren</tspan><tspan x="1663" dy="4.6">Arbonia</tspan><tspan x="1663" dy="4.6">Zehnder</tspan><tspan x="1663" dy="4.6">Kermi</tspan><tspan x="1620" dy="4.6">Deckenstrahlungsheizflächen</tspan><tspan x="1642" dy="4.6">Deckenstrahlplatten</tspan><tspan x="1663" dy="4.6">Arbonia</tspan><tspan x="1663" dy="4.6">Zehnder</tspan><tspan x="1663" dy="4.6">Kermi</tspan><tspan x="1642" dy="4.6">Kühl-/Heizdecken</tspan><tspan x="1663" dy="4.6">Uponor</tspan><tspan x="1663" dy="4.6">Rehau</tspan><tspan x="1642" dy="4.6">Kühlraum-/Deckenheizung</tspan><tspan x="1663" dy="4.6">Hersteller 1</tspan><tspan x="1663" dy="4.6">Hersteller 2</tspan><tspan x="1620" dy="4.6">Fußbodenheizung</tspan><tspan x="1642" dy="4.6">Uponor</tspan><tspan x="1642" dy="4.6">Rehau</tspan><tspan x="1620" dy="4.6">Wandheizung</tspan><tspan x="1642" dy="4.6">Uponor</tspan><tspan x="1642" dy="4.6">Rehau</tspan></text>
<text class="lb" x="1617" y="824">Raumkühlflächen</text>
<text class="ts" y="830"><tspan x="1620">Kühldeckenelemente</tspan><tspan x="1642" dy="4.5">Trox</tspan><tspan x="1642" dy="4.5">Rehau</tspan><tspan x="1642" dy="4.5">Zehnder</tspan><tspan x="1620" dy="4.5">Deckenkühlungselemente</tspan><tspan x="1642" dy="4.5">Deckenkühlungsplatten</tspan><tspan x="1663" dy="4.5">Arbonia</tspan><tspan x="1663" dy="4.5">Zehnder</tspan><tspan x="1663" dy="4.5">Trox</tspan><tspan x="1642" dy="4.5">Kühl-/Deckenkühlung</tspan><tspan x="1663" dy="4.5">Uponor</tspan><tspan x="1663" dy="4.5">Rehau</tspan><tspan x="1642" dy="4.5">Kühlraum-/Deckenkühlung</tspan><tspan x="1663" dy="4.5">Hersteller 1</tspan><tspan x="1663" dy="4.5">Hersteller 2</tspan><tspan x="1620" dy="4.5">Fußbodenkühlung</tspan><tspan x="1642" dy="4.5">Rehau</tspan><tspan x="1642" dy="4.5">Uponor</tspan><tspan x="1620" dy="4.5">Wandkühlflächen</tspan><tspan x="1642" dy="4.5">Rehau</tspan><tspan x="1642" dy="4.5">Uponor</tspan></text>
<text class="lb" x="1617" y="943">Zuluftelemente</text>
<text class="ts" y="951" font-size="3.2"><tspan x="1620">Luftauslässe</tspan><tspan x="1642" dy="3.65">Trox</tspan><tspan x="1642" dy="3.65">Lindab</tspan><tspan x="1620" dy="3.65">Drallauslass</tspan><tspan x="1642" dy="3.65">Trox</tspan><tspan x="1642" dy="3.65">Lindab</tspan><tspan x="1620" dy="3.65">Schlitzauslass</tspan><tspan x="1642" dy="3.65">Trox</tspan><tspan x="1642" dy="3.65">Lindab</tspan><tspan x="1620" dy="3.65">Quelluftauslass</tspan><tspan x="1642" dy="3.65">Trox</tspan><tspan x="1642" dy="3.65">Lindab</tspan><tspan x="1620" dy="3.65">Bodenauslass</tspan><tspan x="1642" dy="3.65">Trox</tspan><tspan x="1642" dy="3.65">Lindab</tspan><tspan x="1620" dy="3.65">Deckenauslass</tspan><tspan x="1642" dy="3.65">Trox</tspan><tspan x="1642" dy="3.65">Lindab</tspan><tspan x="1620" dy="3.65">Weitwurfdüse</tspan><tspan x="1642" dy="3.65">Trox</tspan><tspan x="1642" dy="3.65">Lindab</tspan><tspan x="1620" dy="3.65">Tellerventil</tspan><tspan x="1642" dy="3.65">Trox</tspan><tspan x="1642" dy="3.65">Lindab</tspan></text>
<text class="lb" x="1617" y="1063">Abluftelemente</text>
<text class="ts" y="1069"><tspan x="1620">Luftabsauggitter</tspan><tspan x="1642" dy="5.5">Trox</tspan><tspan x="1642" dy="5.5">Lindab</tspan><tspan x="1620" dy="5.5">Tellerventil</tspan><tspan x="1642" dy="5.5">Trox</tspan><tspan x="1642" dy="5.5">Lindab</tspan><tspan x="1620" dy="5.5">Abluftgitter</tspan><tspan x="1642" dy="5.5">Trox</tspan><tspan x="1642" dy="5.5">Lindab</tspan><tspan x="1620" dy="5.5">Leuchtenabluftelemente</tspan><tspan x="1642" dy="5.5">Hersteller 1</tspan><tspan x="1642" dy="5.5">Hersteller 2</tspan></text>
</g>
</svg>
